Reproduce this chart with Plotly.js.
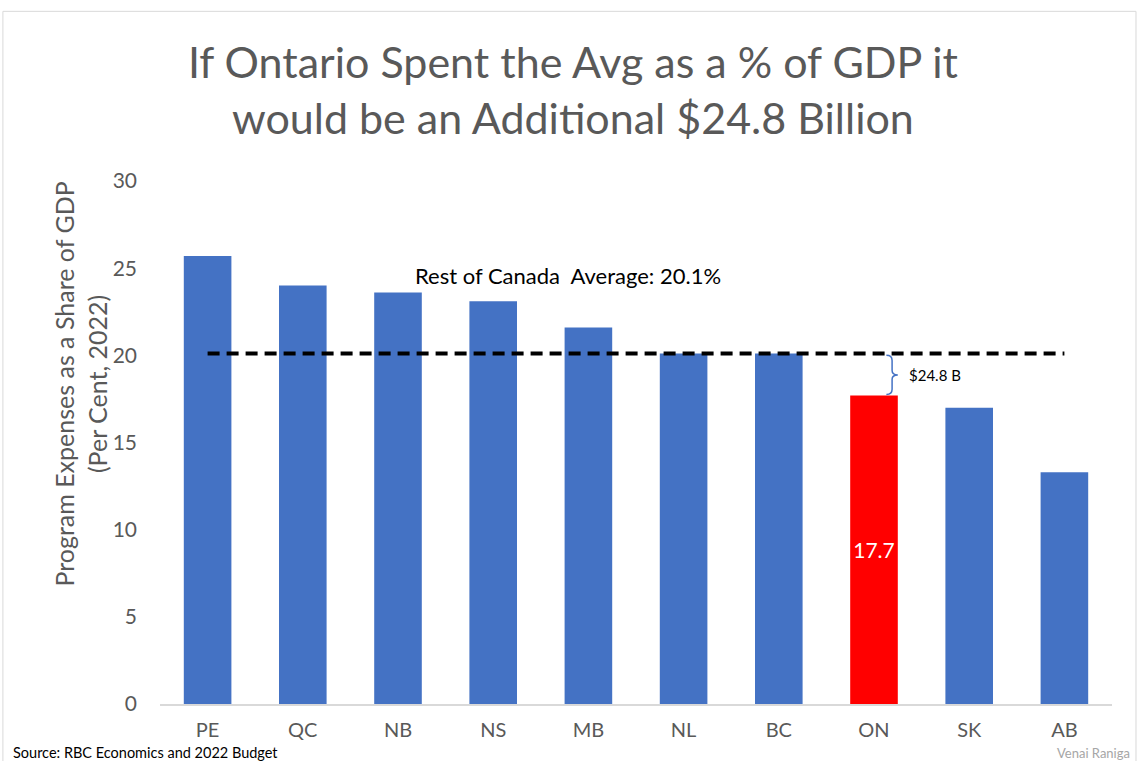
<!DOCTYPE html>
<html>
<head>
<meta charset="utf-8">
<script src="https://cdn.plot.ly/plotly-3.0.1.min.js"></script>
<style>html,body{margin:0;padding:0;background:#fff;}#chart{width:1139px;height:761px;}</style>
</head>
<body>
<div id="chart"></div>
<script>
const provinces = ['PE','QC','NB','NS','MB','NL','BC','ON','SK','AB'];
const shareOfGDP = [25.7, 24.0, 23.6, 23.1, 21.6, 20.1, 20.1, 17.7, 17.0, 13.3];
const highlight = 'ON';
const restOfCanadaAvg = 20.1;
const gapLabel = '$24.8 B';
const yTicks = [0, 5, 10, 15, 20, 25, 30];

const FONT = 'Lato, "Open Sans", sans-serif';
const colors = provinces.map(p => p === highlight ? '#FF0000' : '#4472C4');
const labels = provinces.map((p, i) => p === highlight ? shareOfGDP[i].toFixed(1) : '');
const onIdx = provinces.indexOf(highlight);
const onVal = shareOfGDP[onIdx];

const bars = {
  type: 'bar', x: provinces, y: shareOfGDP,
  marker: {color: colors},
  text: labels, textposition: 'inside', insidetextanchor: 'middle',
  textfont: {color: '#FFFFFF', size: 21, family: FONT},
  hoverinfo: 'x+y', showlegend: false, cliponaxis: false
};
const avgLine = {
  type: 'scatter', mode: 'lines',
  x: [provinces[0], provinces[provinces.length - 1]],
  y: [restOfCanadaAvg, restOfCanadaAvg],
  line: {color: '#000000', width: 4, dash: '12px,7px'},
  showlegend: false, hoverinfo: 'skip'
};

// curly brace between average and ON value
const bx0 = onIdx + 0.13, bx1 = onIdx + 0.25;
const bTop = restOfCanadaAvg - 0.1, bBot = onVal + 0.05, bMid = (bTop + bBot) / 2;
const bm = (bx0 + bx1) / 2;
const bracePath = `M ${bx0} ${bTop} Q ${bm} ${bTop} ${bm} ${bTop - 0.3} L ${bm} ${bMid + 0.25} Q ${bm} ${bMid} ${bx1} ${bMid} Q ${bm} ${bMid} ${bm} ${bMid - 0.25} L ${bm} ${bBot + 0.3} Q ${bm} ${bBot} ${bx0} ${bBot}`;

const layout = {
  width: 1139, height: 761,
  margin: {l: 160, r: 27, t: 181, b: 57},
  paper_bgcolor: '#FFFFFF', plot_bgcolor: '#FFFFFF',
  font: {family: FONT, color: '#595959'},
  title: {
    text: 'If Ontario Spent the Avg as a % of GDP it<br>would be an Additional $24.8 Billion',
    font: {size: 43, color: '#595959', family: FONT},
    x: 0.503, xanchor: 'center', y: 0.898, yanchor: 'middle'
  },
  bargap: 0.5,
  xaxis: {
    type: 'category', showgrid: false, showline: true, linecolor: '#D9D9D9', linewidth: 1.5,
    ticks: '', ticklabelstandoff: 7, tickfont: {size: 20, color: '#595959', family: FONT}, zeroline: false
  },
  yaxis: {
    range: [0, 30], tickvals: yTicks, showgrid: false, zeroline: false, showline: false,
    ticks: '', ticklabelstandoff: 22,
    tickfont: {size: 21, color: '#595959', family: FONT}
  },
  shapes: [
    {type: 'rect', xref: 'paper', yref: 'paper', x0: -0.165, x1: 1.0252, y0: -0.12, y1: 1.3244,
     line: {color: '#D9D9D9', width: 1}, fillcolor: 'rgba(0,0,0,0)', layer: 'below'},
    {type: 'path', xref: 'x', yref: 'y', path: bracePath, line: {color: '#4472C4', width: 1.5}}
  ],
  annotations: [
    {text: 'Program Expenses as a Share of GDP<br>(Per Cent, 2022)', xref: 'paper', yref: 'paper',
     x: -0.083, y: 0.6126, xanchor: 'center', yanchor: 'middle', textangle: -90, showarrow: false,
     font: {size: 25, color: '#595959', family: FONT}},
    {text: 'Rest of Canada  Average: ' + restOfCanadaAvg.toFixed(1) + '%', xref: 'paper', yref: 'y', x: 0.4286, y: 24.6,
     showarrow: false, font: {size: 22, color: '#000000', family: FONT}, xanchor: 'center'},
    {text: gapLabel, xref: 'x', yref: 'y', x: onIdx + 0.35, y: (restOfCanadaAvg + onVal) / 2,
     showarrow: false, xanchor: 'left', font: {size: 15, color: '#000000', family: FONT}},
    {text: 'Source: RBC Economics and 2022 Budget', xref: 'paper', yref: 'paper', x: -0.156, y: -0.093,
     xanchor: 'left', yanchor: 'middle', showarrow: false, font: {size: 14.5, color: '#000000', family: FONT}},
    {text: 'Venai Raniga', xref: 'paper', yref: 'paper', x: 0.94, y: -0.093,
     xanchor: 'left', yanchor: 'middle', showarrow: false, font: {size: 13, color: '#A6A6A6', family: FONT}}
  ]
};

Plotly.newPlot('chart', [bars, avgLine], layout, {displayModeBar: false, staticPlot: true});
</script>
</body>
</html>
